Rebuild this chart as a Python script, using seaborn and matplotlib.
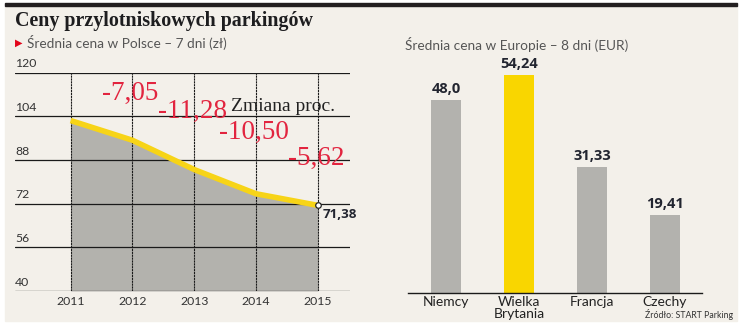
import matplotlib
matplotlib.use("Agg")
import matplotlib.pyplot as plt
import matplotlib.patches as mpatches
import matplotlib.transforms as mtransforms
import seaborn as sns
import numpy as np

# ---------------- data ----------------
years = [2011, 2012, 2013, 2014, 2015]
pl_prices = [102.47, 95.25, 84.50, 75.63, 71.38]
pct_changes = ["-7,05", "-11,28", "-10,50", "-5,62"]
pct_years = [2012, 2013, 2014, 2015]
y_ticks = [40, 56, 72, 88, 104, 120]
last_label = "71,38"

countries = ["Niemcy", "Wielka\nBrytania", "Francja", "Czechy"]
eu_prices = [48.0, 54.24, 31.33, 19.41]
eu_labels = ["48,0", "54,24", "31,33", "19,41"]
bar_colors = ["#b3b2ae", "#f9d600", "#b3b2ae", "#b3b2ae"]

title = "Ceny przylotniskowych parkingów"
sub_left = "Średnia cena w Polsce – 7 dni (zł)"
sub_right = "Średnia cena w Europie – 8 dni (EUR)"
source = "Źródło: START Parking"

# ---------------- style ----------------
sns.set_theme(style="white")
plt.rcParams["font.family"] = ["Lato", "DejaVu Sans"]

W, H = 742, 329
fig = plt.figure(figsize=(W / 100, H / 100), dpi=100, facecolor="white")

def fx(px):
    return px / W

def fy(py):
    return 1 - py / H

BEIGE = "#f3f0ea"
RED = "#e2243f"
YELLOW = "#f7d417"
DARK = "#222530"

# background panel and top bar
fig.add_artist(mpatches.Rectangle((fx(5), fy(321)), fx(732), (321 - 6) / H,
                                  transform=fig.transFigure, color=BEIGE, zorder=-10))
fig.add_artist(mpatches.Rectangle((fx(5), fy(6)), fx(732), 3 / H,
                                  transform=fig.transFigure, color="#231f20", zorder=-10))

# titles
fig.text(fx(15), fy(21), title, family=["Liberation Serif"], fontweight="bold",
         fontsize=14.4, color="#1d1d1f", va="center", ha="left")
fig.text(fx(15), fy(43), "\u25B6", family=["DejaVu Sans"], fontsize=7, color="#e3051b",
         va="center", ha="left")
fig.text(fx(27), fy(43), sub_left, fontsize=9.8, color="#555555", va="center", ha="left")
fig.text(fx(405), fy(45), sub_right, fontsize=9.8, color="#555555", va="center", ha="left")

# ---------------- left: line/area ----------------
ax = fig.add_axes([fx(15), fy(291), fx(350) - fx(15), (291 - 72.7) / H])
ax.set_facecolor("none")
ax.set_xlim(2010.10, 2015.52)
ax.set_ylim(40, 120)

ax.fill_between(years, pl_prices, 40, color="#b3b2ad", linewidth=0, zorder=1)
for v in y_ticks:
    ax.axhline(v, color="#1a1a1a", lw=0.9, zorder=2)
for yr in years:
    ax.plot([yr, yr], [40, 120], color="#1a1a1a", lw=0.8, ls=(0, (2, 0.6)), zorder=2)
sns.lineplot(x=years, y=pl_prices, ax=ax, color=YELLOW, lw=4, zorder=3,
             solid_capstyle="butt")
ax.plot([years[-1]], [pl_prices[-1]], marker="o", ms=4, mfc="white", mec="#222222",
        mew=0.9, zorder=4, clip_on=False)

for s in ax.spines.values():
    s.set_visible(False)
ax.set_yticks([])
ax.set_xticks(years)
ax.set_xticklabels([str(y) for y in years], fontsize=8.8, color="#333333")
ax.tick_params(axis="x", length=0, pad=3.5)

off = mtransforms.offset_copy(ax.transData, fig=fig, x=0, y=2.5, units="points")
for v in y_ticks:
    ax.text(0, v, str(v), transform=mtransforms.blended_transform_factory(ax.transAxes, off),
            fontsize=8.8, color="#333333", ha="left", va="bottom")

# percentage changes
pct_y = [112.5, 105.7, 98.0, 88.7]
for yr, yv, t in zip(pct_years, pct_y, pct_changes):
    ax.text(yr - 0.03, yv, t, family=["Liberation Serif"], fontsize=19.5, color=RED,
            ha="center", va="center", zorder=5)
ax.text(2014.43, 107.6, "Zmiana proc.", family=["Liberation Serif"], fontsize=14,
        color="#222222", ha="center", va="center", zorder=5)

lab_tr = mtransforms.offset_copy(ax.transData, fig=fig, x=3.6, y=-6.5, units="points")
ax.text(years[-1], pl_prices[-1], last_label, transform=lab_tr, family=["Open Sans"],
        fontweight="bold", fontsize=9.6, color=DARK, ha="left", va="center")

# ---------------- right: bars ----------------
ax2 = fig.add_axes([fx(408), fy(293), fx(702) - fx(408), (293 - 60) / H])
ax2.set_facecolor("none")
sns.barplot(x=countries, y=eu_prices, hue=countries, palette=bar_colors, legend=False,
            width=0.41, ax=ax2, saturation=1, linewidth=0)
ax2.set_xlim(-0.52, 3.507)
ax2.set_ylim(0, 57.96)
for c, lab in zip(ax2.containers, eu_labels):
    ax2.bar_label(c, labels=[lab], padding=3, family=["Open Sans"], fontweight="bold",
                  fontsize=10.5, color=DARK)
for k, s in ax2.spines.items():
    s.set_visible(k == "bottom")
ax2.spines["bottom"].set_color("#1a1a1a")
ax2.spines["bottom"].set_linewidth(1)
ax2.set_yticks([])
ax2.set_ylabel("")
ax2.tick_params(axis="x", length=0, pad=2.5, labelsize=10, labelcolor="#222222")
for t in ax2.get_xticklabels():
    t.set_linespacing(0.95)

fig.text(fx(645), fy(314.5), source, fontsize=6.3, color="#333333", ha="left", va="center")

fig.savefig("out.png", dpi=100, facecolor="white")
